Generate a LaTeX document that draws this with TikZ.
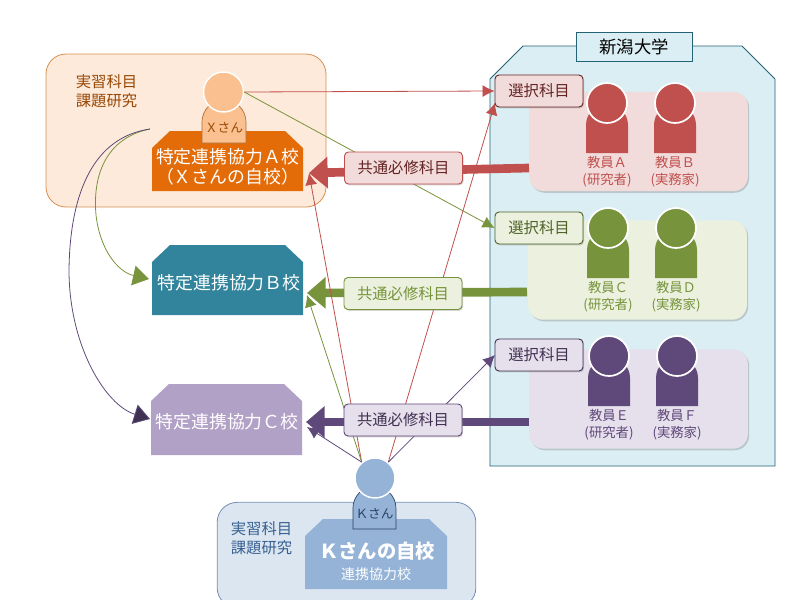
\documentclass[tikz,border=0pt]{standalone}
\usepackage{fontspec}
\setmainfont{Noto Sans CJK JP}
\usepackage{tikz}
\usetikzlibrary{arrows.meta,shadows}

\definecolor{redmain}{HTML}{C0504D}
\definecolor{redpale}{HTML}{F2DCDB}
\definecolor{reddark}{HTML}{632423}
\definecolor{greenmain}{HTML}{77933C}
\definecolor{greenpale}{HTML}{EBF1DE}
\definecolor{greendark}{HTML}{4F6228}
\definecolor{purplemain}{HTML}{5F497A}
\definecolor{purplepale}{HTML}{E6E0EC}
\definecolor{purpledark}{HTML}{403152}
\definecolor{orangemain}{HTML}{E36C09}
\definecolor{orangehead}{HTML}{FAC090}
\definecolor{orangepale}{HTML}{FDEADA}
\definecolor{orangedark}{HTML}{984806}
\definecolor{bluemain}{HTML}{95B3D7}
\definecolor{bluepale}{HTML}{DCE6F1}
\definecolor{bluedark}{HTML}{376092}
\definecolor{tealmain}{HTML}{31849B}
\definecolor{tealpale}{HTML}{DAEEF3}
\definecolor{lilacmain}{HTML}{B2A1C7}

\newcommand{\fsize}[2]{\fontsize{#1}{#2}\selectfont}

\begin{document}
\begin{tikzpicture}[x=0.75pt,y=-0.75pt]

\tikzset{
  schooltext/.style={text=white, align=center, inner sep=0pt, font=\fsize{13.4pt}{15pt}},
  subject/.style={align=center, inner sep=0pt, font=\fsize{11.5pt}{14.2pt}},
  homepanel/.style={rectangle, rounded corners=15pt, line width=0.6pt},
  rowpanel/.style={rectangle, rounded corners=11pt, fill=#1, minimum width=164pt, minimum height=74.5pt,
                  drop shadow={opacity=0.35, shadow xshift=1pt, shadow yshift=-1.2pt}},
  selectbox/.style={rectangle, rounded corners=3pt, fill=#1, line width=0.7pt, font=\fsize{11.5pt}{14pt},
                  minimum width=66pt, minimum height=24pt, inner sep=0pt,
                  drop shadow={opacity=0.35, shadow xshift=0.8pt, shadow yshift=-1pt}},
  commonbox/.style={selectbox=#1, minimum width=88.5pt},
  head/.style={circle, fill=#1, minimum size=30pt, inner sep=0pt},
  thinline/.style={#1, line width=0.6pt, -{Latex[length=9pt, width=9pt]}},
  thickline/.style={#1, line width=6.5pt, -{Triangle[length=14pt, width=23pt]}},
  curveline/.style={#1, line width=0.6pt},
  stafflabel/.style={align=center, font=\fsize{10pt}{12.75pt}, inner sep=0pt, text=#1}
}

\newcommand{\staff}[5]{
  \begin{scope}[shift={(#1,#2)}]
    \fill[#3] (-21,50) -- (-21,22) arc[start angle=180, end angle=0, radius=15.75pt] -- (21,50) -- cycle;
    \node[head=#3, draw=white, line width=1.3pt] (#4) at (0,0) {};
    \node[stafflabel=#3] at (0,69) {#5};
  \end{scope}
}

\newcommand{\schoolblock}[6]{
  \fill[#5] (#1,#3) -- (#1,#3-#6) -- (#1+18,#3-#6-17) -- (#2-18,#3-#6-17) -- (#2,#3-#6) -- (#2,#3) -- cycle;
}

% University
\path[use as bounding box] (0,0) rectangle (800,600);
\draw[fill=tealpale, draw=tealmain!75!black, line width=0.7pt] (490,79) -- (523,46) -- (742,46) -- (775,79) -- (775,466) -- (490,466) -- cycle;
\node[rectangle, fill=tealpale, draw=tealmain!75!black, line width=0.7pt, minimum width=87pt, minimum height=21.75pt, inner sep=0pt, font=\fsize{13pt}{15pt}] (univ) at (634,46.5) {新潟大学};

% Panels
\node[homepanel, fill=orangepale, draw=orange!45!orangedark!70, minimum width=210pt, minimum height=114.75pt] (homeX) at (186,130.5) {};
\node[homepanel, fill=bluepale, draw=bluedark!70, minimum width=194pt, minimum height=79pt] (homeK) at (346.5,555) {};
\node[rowpanel=redpale] (rowA) at (638.5,141.5) {};
\node[rowpanel=greenpale] (rowB) at (637.5,270) {};
\node[rowpanel=purplepale] (rowC) at (638.5,399) {};

\node[subject, text=orangedark] (subjX) at (106.5,91.5) {実習科目\\課題研究};
\node[subject, text=bluedark] (subjK) at (261.5,538) {実習科目\\課題研究};

% Schools
\schoolblock{152}{303}{191}{A}{orangemain}{43}
\schoolblock{152}{303}{315}{B}{tealmain}{53}
\schoolblock{151}{302}{455}{C}{lilacmain}{54}
\schoolblock{305}{447}{589}{K}{bluemain}{53}
\node[schooltext] (schoolA) at (227.5,167) {特定連携協力Ａ校\\（Ｘさんの自校）};
\node[schooltext] (schoolB) at (229,283) {特定連携協力Ｂ校};
\node[schooltext] (schoolC) at (227,422) {特定連携協力Ｃ校};
\node[text=white, font=\fsize{14.5pt}{16pt}\bfseries, inner sep=0pt] (nameK) at (377,551) {Ｋさんの自校};
\node[text=white, font=\fsize{10.5pt}{12pt}, inner sep=0pt] (kindK) at (376,574) {連携協力校};

% Students
\draw[fill=orangehead, draw=orangedark!80, line width=0.5pt] (202,143) -- (202,122) arc[start angle=180, end angle=0, radius=16.5pt] -- (246,143) -- cycle;
\node[head=orangehead, draw=white, line width=1.1pt] (headX) at (223.5,92) {};
\node[text=orangedark, font=\fsize{9.5pt}{11pt}, inner sep=0pt] (nameX) at (224,128) {Ｘさん};
\draw[fill=bluemain, draw=bluedark!70!black, line width=0.5pt] (353,529) -- (353,508) arc[start angle=180, end angle=0, radius=16.1pt] -- (396,529) -- cycle;
\node[head=bluemain, draw=white, line width=1.1pt] (headK) at (375,478) {};
\node[text=bluedark!70!black, font=\fsize{9.5pt}{11pt}, inner sep=0pt] (labelK) at (374.5,514) {Ｋさん};

% Staff
\staff{607}{103}{redmain}{headA}{教員Ａ\\(研究者)}
\staff{675}{103}{redmain}{headB}{教員Ｂ\\(実務家)}
\staff{608}{228}{greenmain}{headC}{教員Ｃ\\(研究者)}
\staff{676}{228}{greenmain}{headD}{教員Ｄ\\(実務家)}
\staff{609}{356}{purplemain}{headE}{教員Ｅ\\(研究者)}
\staff{677}{356}{purplemain}{headF}{教員Ｆ\\(実務家)}

% Tips
\coordinate (tipA) at (309,173);
\coordinate (tipB) at (307,293);
\coordinate (tipC) at (306,422);
\coordinate (tipSelA) at (495,103);
\coordinate (tipThinB) at (307,295);
\coordinate (tipThinC) at (307,427);
\coordinate (tipCurveB) at (149,279);
\coordinate (tipCurveC) at (150,419);
\coordinate (startCurve) at (150,129);
\coordinate (selC) at (495,355);

% Lines
\draw[thickline=redmain] (529,168) -- (tipA);
\draw[thickline=greenmain] (527,292) -- (tipB);
\draw[thickline=purplemain] (529,422) -- (tipC);

\node[selectbox=redpale, draw=reddark, text=reddark] (selectA) at (539,91) {選択科目};
\node[selectbox=greenpale, draw=greendark, text=greendark] (selectB) at (539,228) {選択科目};
\node[selectbox=purplepale, draw=purpledark, text=purpledark] (selectC) at (539,355) {選択科目};

\draw[thinline=redmain] (headX.east) -- (selectA.west);
\draw[thinline=greenmain] (headX.east) -- (selectB.west);
\draw[thinline=redmain] (headK.130) -- (tipA);
\draw[thinline=greenmain] (headK.130) -- (tipThinB);
\draw[thinline=purplemain] (headK.130) -- (tipThinC);
\draw[thinline=redmain] (headK.50) -- (tipSelA);
\draw[thinline=purplemain] (headK.50) -- (selC);

\node[commonbox=redpale, draw=redmain, text=reddark] (commonA) at (403.5,168) {共通必修科目};
\node[commonbox=greenpale, draw=greenmain, text=greenmain] (commonB) at (403,293.5) {共通必修科目};
\node[commonbox=purplepale, draw=purplemain, text=purpledark] (commonC) at (403,420) {共通必修科目};

\draw[curveline=greenmain, -{Triangle[length=12pt, width=15pt, fill=greenmain]}] (startCurve) .. controls (110,137) and (92,170) .. (96,215) .. controls (100,250) and (118,272) .. (tipCurveB);
\draw[curveline=purplemain, -{Triangle[length=12pt, width=15pt, fill=purpledark]}] (startCurve) .. controls (95,137) and (70,190) .. (69,270) .. controls (69,345) and (105,405) .. (tipCurveC);

\end{tikzpicture}
\end{document}
